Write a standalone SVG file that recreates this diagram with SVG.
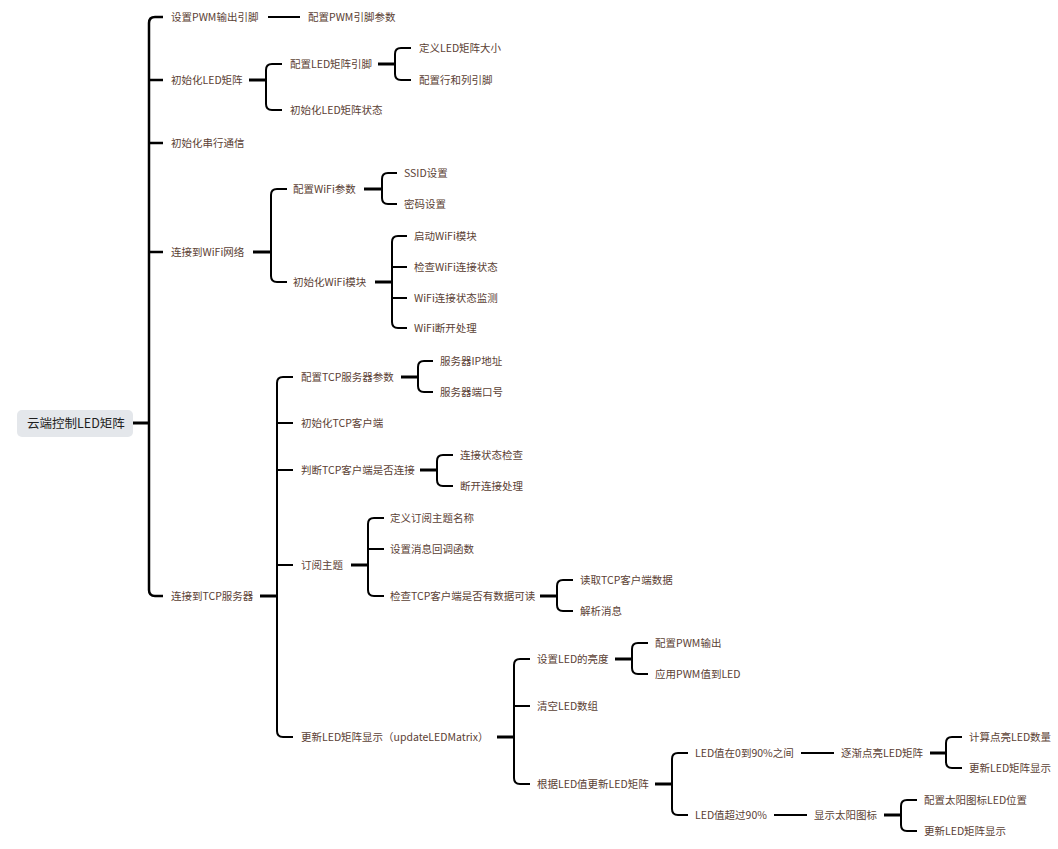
<svg xmlns="http://www.w3.org/2000/svg" width="1058" height="849" viewBox="0 0 1058 849">
<style>
.t{font-family:"Microsoft YaHei","Noto Sans CJK SC","Noto Sans",sans-serif;font-size:10.5px;fill:#5b4134}
.r{font-family:"Noto Sans CJK SC","Noto Sans",sans-serif;font-size:12.5px;fill:#1f1f1f}
.b{fill:none;stroke:#000;stroke-width:2}
.s{fill:none;stroke:#000;stroke-width:3}
.k{fill:none;stroke:#000;stroke-width:2.5}
</style>
<rect width="1058" height="849" fill="#fff"/>
<g id="connectors">
<path class="s" d="M133,423H148"/>
<path class="k" d="M163,17H155Q149,17 149,23V590Q149,596 155,596H163M149,80H163M149,143H163M149,252H163"/>
<path class="b" d="M268,17H300"/>
<path class="s" d="M249,80H266"/>
<path class="b" d="M282,64H272Q266,64 266,70V104Q266,110 272,110H282"/>
<path class="s" d="M378,64H395"/>
<path class="b" d="M411,48H401Q395,48 395,54V74Q395,80 401,80H411"/>
<path class="s" d="M253,252H270"/>
<path class="b" d="M287,189H277Q271,189 271,195V276Q271,282 277,282H287"/>
<path class="s" d="M364,189H381"/>
<path class="b" d="M397,173H388Q382,173 382,179V198Q382,204 388,204H397"/>
<path class="s" d="M375,282H392"/>
<path class="b" d="M407,236H398Q392,236 392,242V322Q392,328 398,328H407M392,267H407M392,298H407"/>
<path class="s" d="M260,596H277"/>
<path class="b" d="M293,377H283Q277,377 277,383V731Q277,737 283,737H293M277,423H293M277,470H293M277,565H293"/>
<path class="s" d="M401,377H418"/>
<path class="b" d="M433,361H424Q418,361 418,367V386Q418,392 424,392H433"/>
<path class="s" d="M420,470H437"/>
<path class="b" d="M453,455H443Q437,455 437,461V480Q437,486 443,486H453"/>
<path class="s" d="M351,565H368"/>
<path class="b" d="M384,518H374Q368,518 368,524V590Q368,596 374,596H384M368,549H384"/>
<path class="s" d="M540,596H557"/>
<path class="b" d="M573,580H563Q557,580 557,586V605Q557,611 563,611H573"/>
<path class="s" d="M497,737H514"/>
<path class="b" d="M530,659H520Q514,659 514,665V778Q514,784 520,784H530M514,706H530"/>
<path class="s" d="M615,659H632"/>
<path class="b" d="M648,643H638Q632,643 632,649V668Q632,674 638,674H648"/>
<path class="s" d="M655,784H672"/>
<path class="b" d="M688,753H678Q672,753 672,759V809Q672,815 678,815H688"/>
<path class="b" d="M801,753H834"/>
<path class="s" d="M930,753H946"/>
<path class="b" d="M962,737H952Q946,737 946,743V762Q946,768 952,768H962"/>
<path class="b" d="M774,815H807"/>
<path class="s" d="M884,815H901"/>
<path class="b" d="M917,800H907Q901,800 901,806V825Q901,831 907,831H917"/>
</g>
<g id="root"><rect x="17" y="410" width="116" height="27" rx="5" fill="#e4e7eb"/><text class="r" x="27" y="428">云端控制LED矩阵</text></g>
<g id="n-pwm"><text class="t" x="171" y="21">设置PWM输出引脚</text></g>
<g id="n-pwm-1"><text class="t" x="308" y="21">配置PWM引脚参数</text></g>
<g id="n-led"><text class="t" x="171" y="84">初始化LED矩阵</text></g>
<g id="n-led-1"><text class="t" x="290" y="68">配置LED矩阵引脚</text></g>
<g id="n-led-1-1"><text class="t" x="419" y="52">定义LED矩阵大小</text></g>
<g id="n-led-1-2"><text class="t" x="419" y="84">配置行和列引脚</text></g>
<g id="n-led-2"><text class="t" x="290" y="114">初始化LED矩阵状态</text></g>
<g id="n-serial"><text class="t" x="171" y="147">初始化串行通信</text></g>
<g id="n-wifi"><text class="t" x="171" y="256">连接到WiFi网络</text></g>
<g id="n-wifi-1"><text class="t" x="293" y="193">配置WiFi参数</text></g>
<g id="n-wifi-1-1"><text class="t" x="404" y="177">SSID设置</text></g>
<g id="n-wifi-1-2"><text class="t" x="404" y="208">密码设置</text></g>
<g id="n-wifi-2"><text class="t" x="293" y="286">初始化WiFi模块</text></g>
<g id="n-wifi-2-1"><text class="t" x="414" y="240">启动WiFi模块</text></g>
<g id="n-wifi-2-2"><text class="t" x="414" y="271">检查WiFi连接状态</text></g>
<g id="n-wifi-2-3"><text class="t" x="414" y="302">WiFi连接状态监测</text></g>
<g id="n-wifi-2-4"><text class="t" x="414" y="332">WiFi断开处理</text></g>
<g id="n-tcp"><text class="t" x="171" y="600">连接到TCP服务器</text></g>
<g id="n-tcp-1"><text class="t" x="301" y="381">配置TCP服务器参数</text></g>
<g id="n-tcp-1-1"><text class="t" x="440" y="365">服务器IP地址</text></g>
<g id="n-tcp-1-2"><text class="t" x="440" y="396">服务器端口号</text></g>
<g id="n-tcp-2"><text class="t" x="301" y="427">初始化TCP客户端</text></g>
<g id="n-tcp-3"><text class="t" x="301" y="474">判断TCP客户端是否连接</text></g>
<g id="n-tcp-3-1"><text class="t" x="460" y="459">连接状态检查</text></g>
<g id="n-tcp-3-2"><text class="t" x="460" y="490">断开连接处理</text></g>
<g id="n-tcp-4"><text class="t" x="301" y="569">订阅主题</text></g>
<g id="n-tcp-4-1"><text class="t" x="390" y="522">定义订阅主题名称</text></g>
<g id="n-tcp-4-2"><text class="t" x="390" y="553">设置消息回调函数</text></g>
<g id="n-tcp-4-3"><text class="t" x="390" y="600">检查TCP客户端是否有数据可读</text></g>
<g id="n-tcp-4-3-1"><text class="t" x="580" y="584">读取TCP客户端数据</text></g>
<g id="n-tcp-4-3-2"><text class="t" x="580" y="615">解析消息</text></g>
<g id="n-tcp-5"><text class="t" x="301" y="741">更新LED矩阵显示（updateLEDMatrix）</text></g>
<g id="n-tcp-5-1"><text class="t" x="537" y="663">设置LED的亮度</text></g>
<g id="n-tcp-5-1-1"><text class="t" x="655" y="647">配置PWM输出</text></g>
<g id="n-tcp-5-1-2"><text class="t" x="655" y="678">应用PWM值到LED</text></g>
<g id="n-tcp-5-2"><text class="t" x="537" y="710">清空LED数组</text></g>
<g id="n-tcp-5-3"><text class="t" x="537" y="788">根据LED值更新LED矩阵</text></g>
<g id="n-a"><text class="t" x="695" y="757">LED值在0到90%之间</text></g>
<g id="n-a-1"><text class="t" x="841" y="757">逐渐点亮LED矩阵</text></g>
<g id="n-a-1-1"><text class="t" x="969" y="741">计算点亮LED数量</text></g>
<g id="n-a-1-2"><text class="t" x="969" y="772">更新LED矩阵显示</text></g>
<g id="n-b"><text class="t" x="695" y="819">LED值超过90%</text></g>
<g id="n-b-1"><text class="t" x="814" y="819">显示太阳图标</text></g>
<g id="n-b-1-1"><text class="t" x="924" y="804">配置太阳图标LED位置</text></g>
<g id="n-b-1-2"><text class="t" x="924" y="835">更新LED矩阵显示</text></g>
</svg>
